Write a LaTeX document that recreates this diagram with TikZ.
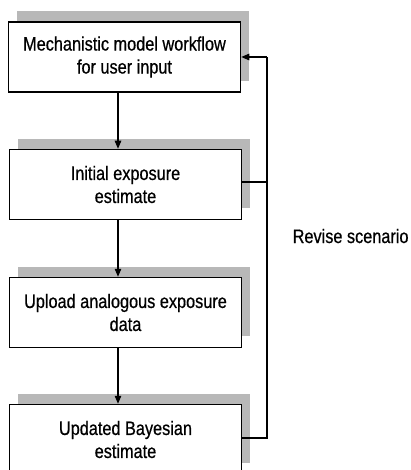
\documentclass[tikz,border=0pt]{standalone}
\usepackage{fontspec}
\setmainfont{Liberation Sans}[FakeStretch=0.835,FakeBold=0.6]
\usetikzlibrary{arrows.meta,backgrounds,calc}
\definecolor{shadowgray}{RGB}{184,184,184}
\begin{document}
\begin{tikzpicture}[x=1pt,y=-1pt,
  box/.style={draw=black,line width=1.5pt,fill=white,rectangle,inner sep=0pt,
    minimum width=232pt,minimum height=70pt,align=center,
    font=\fontsize{19.5}{23}\selectfont},
  conn/.style={draw=black,line width=1.2pt},
  arr/.style={conn,-{Triangle[length=8pt,width=6.5pt]}},
  lbl/.style={inner sep=0pt,font=\fontsize{19.5}{23}\selectfont}]
\useasboundingbox (0,0) rectangle (410,470);
\clip (0,0) rectangle (410,470);
\node[box] (b1) at (124.5,57) {Mechanistic model workflow\\for user input};
\node[box] (b2) at (125.5,184.5) {Initial exposure\\estimate};
\node[box] (b3) at (125.5,312.5) {Upload analogous exposure\\data};
\node[box] (b4) at (125.5,439.5) {Updated Bayesian\\estimate};
\begin{scope}[on background layer]
  \foreach \b in {b1,b2,b3,b4}{
    \fill[shadowgray] ($(\b.north west)+(9,-10)$) rectangle ($(\b.south east)+(8,-12)$);
  }
\end{scope}
\coordinate (ax) at (118,0);
\draw[arr] (b1.south -| ax) -- (b2.north -| ax);
\draw[arr] (b2.south -| ax) -- (b3.north -| ax);
\draw[arr] (b3.south -| ax) -- (b4.north -| ax);
\coordinate (rtop) at (267,57);
\coordinate (rmid) at (267,182);
\coordinate (rbot) at (267,438);
\draw[conn] (b4.east |- rbot) -- (rbot) -- (rtop);
\draw[conn] (b2.east |- rmid) -- (rmid);
\draw[arr] (rtop) -- (b1.east |- rtop);
\node[lbl,anchor=base west] (rev) at (292.5,243) {Revise scenario};
\end{tikzpicture}
\end{document}
